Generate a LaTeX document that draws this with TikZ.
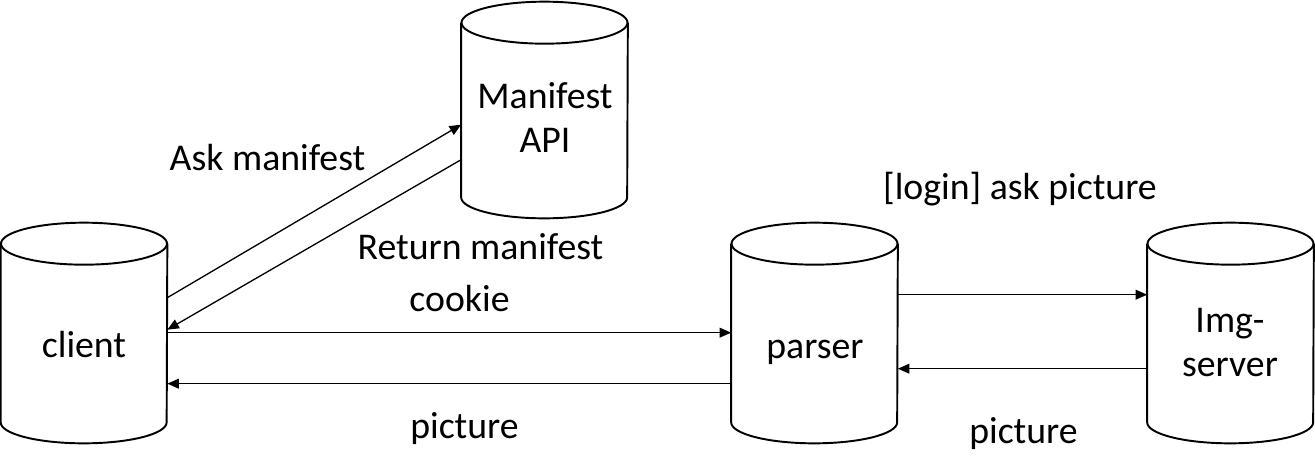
\documentclass[tikz,border=0pt]{standalone}
\usepackage{fontspec}
\setmainfont{Carlito}
\usetikzlibrary{arrows.meta,calc}
\newcommand\drawcyl[1]{%
  \draw[cylline] ($(#1.north west)+(0,21)$) -- ($(#1.south west)+(0,-21)$)
    arc[start angle=180,end angle=0,x radius=83,y radius=21]
    -- ($(#1.north east)+(0,21)$);
  \draw[cylline] ($(#1.north)+(0,21)$) ellipse[x radius=83,y radius=21];
}
\begin{document}
\begin{tikzpicture}[x=0.02cm,y=-0.02cm,
  box/.style={draw=none,inner sep=0,minimum width=3.32cm,minimum height=4.4cm},
  cylline/.style={line width=1.1pt},
  arr/.style={line width=0.75pt,-{Triangle[length=6.6pt,width=5.6pt]}},
  lbl/.style={font=\fontsize{21.5}{24.8}\selectfont,align=center,inner sep=0,anchor=base}]
\useasboundingbox (0,0) rectangle (1315,474);
\fill[white] (0,0) rectangle (1315,474);

\node[box] (client) at (84,333) {};
\node[box,minimum height=4.32cm] (manifest) at (544.5,110) {};
\node[box] (parser) at (814.5,333) {};
\node[box] (imgserver) at (1230.5,333) {};

\drawcyl{client}
\drawcyl{manifest}
\drawcyl{parser}
\drawcyl{imgserver}

\node[lbl] (client-t) at (84,357) {client};
\node[lbl] (manifest-t) at (545,152) {Manifest\\API};
\node[lbl] (parser-t) at (815,358) {parser};
\node[lbl] (imgserver-t) at (1230,376) {Img-\\server};

\draw[arr] ($(client.north east)+(0,75)$) -- ($(manifest.north west)+(0,123)$);
\draw[arr] ($(manifest.north west)+(0,158)$) -- ($(client.north east)+(0,107)$);
\draw[arr] ($(client.north east)+(0,110)$) -- ($(parser.north west)+(0,110)$);
\draw[arr] ($(parser.north west)+(0,161)$) -- ($(client.north east)+(0,161)$);
\draw[arr] ($(parser.north east)+(0,72)$) -- ($(imgserver.north west)+(0,72)$);
\draw[arr] ($(imgserver.north west)+(0,146)$) -- ($(parser.north east)+(0,146)$);

\node[lbl] (l-ask) at (267.5,170) {Ask manifest};
\node[lbl] (l-ret) at (480.5,259) {Return manifest};
\node[lbl] (l-cookie) at (459.5,311) {cookie};
\node[lbl] (l-pic1) at (464.5,438) {picture};
\node[lbl] (l-login) at (1020,199) {[login] ask picture};
\node[lbl] (l-pic2) at (1023.5,443) {picture};
\end{tikzpicture}
\end{document}
